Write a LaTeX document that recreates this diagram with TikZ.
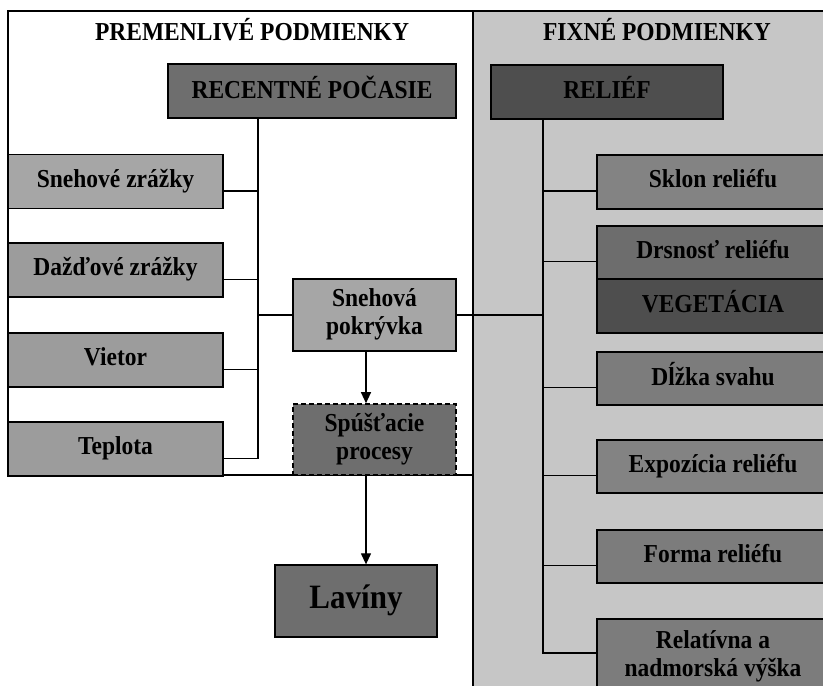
\documentclass[tikz,border=0pt]{standalone}
\usepackage{fontspec}
\setmainfont{Liberation Serif}
\usetikzlibrary{arrows.meta}
\definecolor{panelgray}{HTML}{C6C6C6}
\definecolor{lightbox}{HTML}{A6A6A6}
\definecolor{leftbox}{HTML}{9C9C9C}
\definecolor{midbox}{HTML}{7C7C7C}
\definecolor{darkbox}{HTML}{6E6E6E}
\definecolor{deepbox}{HTML}{4E4E4E}
\newcommand{\stx}[1]{\scalebox{1}[1.1]{\begin{tabular}{@{}c@{}}#1\end{tabular}}}
\begin{document}
\begin{tikzpicture}[x=1pt,y=-1pt,
  box/.style={draw=black, line width=1.3pt, inner sep=0pt, align=center,
    font=\fontsize{23.5}{25.5}\selectfont\bfseries, text=black},
  leftb/.style={box, fill=leftbox, minimum width=215pt, minimum height=54pt},
  rightb/.style={box, fill=midbox, minimum width=232pt, minimum height=53pt},
  conn/.style={draw=black, line width=1.2pt},
  arr/.style={conn, -{Triangle[length=11pt,width=10pt]}},
  ttl/.style={inner sep=0pt, font=\fontsize{23.5}{25.5}\selectfont\bfseries}]
\clip (0,0) rectangle (823,686);
% panels
\fill[panelgray] (473,11) rectangle (830,690);
\draw[line width=1.2pt] (830,11) -- (8,11) -- (8,475) -- (473,475);
\draw[line width=1.2pt] (473,11) -- (473,690);
% titles
\node[ttl] (t1) at (252,33.5) {\stx{PREMENLIVÉ PODMIENKY}};
\node[ttl] (t2) at (657,33.5) {\stx{FIXNÉ PODMIENKY}};
% trunk columns
\coordinate (tl) at (258,0);
\coordinate (tr) at (543,0);
\coordinate (ax) at (366,0);
% left side
\node[box, fill=darkbox, minimum width=288pt, minimum height=54pt] (rp) at (312,91) {\stx{RECENTNÉ POČASIE}};
\node[leftb, fill=lightbox] (sz) at (115.5,181.5) {\stx{Snehové zrážky}};
\node[leftb] (dz) at (115.5,270) {\stx{Dažďové zrážky}};
\node[leftb] (vi) at (115.5,360) {\stx{Vietor}};
\node[leftb] (te) at (115.5,449) {\stx{Teplota}};
\node[box, fill=lightbox, minimum width=163pt, minimum height=72pt] (sp) at (374.5,315) {\stx{Snehová\\pokrývka}};
\node[box, fill=darkbox, dash pattern=on 5pt off 3pt, line width=1.6pt, minimum width=163pt, minimum height=71pt] (spu) at (374.5,439.5) {\stx{Spúšťacie\\procesy}};
\node[box, fill=darkbox, minimum width=162pt, minimum height=72pt, font=\fontsize{31}{34}\selectfont\bfseries] (lav) at (356,601) {\stx{Lavíny}};
% right side
\node[box, fill=deepbox, minimum width=232pt, minimum height=54pt] (re) at (607,92) {\stx{RELIÉF}};
\node[rightb, fill=midbox!95!white, minimum height=54pt] (sk) at (713,182) {\stx{Sklon reliéfu}};
\node[rightb, fill=midbox!88!black] (dr) at (713,252.5) {\stx{Drsnosť reliéfu}};
\node[box, fill=deepbox, minimum width=232pt, minimum height=54pt] (ve) at (713,306) {\stx{VEGETÁCIA}};
\node[rightb] (dl) at (713,378.5) {\stx{Dĺžka svahu}};
\node[rightb, fill=midbox!95!white] (ex) at (713,466.5) {\stx{Expozícia reliéfu}};
\node[rightb] (fo) at (713,556.5) {\stx{Forma reliéfu}};
\node[rightb, minimum height=76pt] (rv) at (713,657) {\stx{Relatívna a\\nadmorská výška}};
% left connectors
\draw[conn] (rp.south -| tl) -- ([yshift=-9.5pt]te.east -| tl) -- ([yshift=-9.5pt]te.east);
\draw[conn] ([yshift=-9.5pt]sz.east) -- ([yshift=-9.5pt]sz.east -| tl);
\draw[conn] ([yshift=-9.5pt]dz.east) -- ([yshift=-9.5pt]dz.east -| tl);
\draw[conn] ([yshift=-9.5pt]vi.east) -- ([yshift=-9.5pt]vi.east -| tl);
\draw[conn] (sp.west -| tl) -- (sp.west);
\draw[conn] (sp.east) -- (sp.east -| tr);
\draw[arr] (sp.south -| ax) -- (spu.north -| ax);
\draw[arr] (spu.south -| ax) -- (lav.north -| ax);
% right connectors
\draw[conn] (re.south -| tr) -- ([yshift=4pt]rv.west -| tr) -- ([yshift=4pt]rv.west);
\draw[conn] ([yshift=-9pt]sk.west -| tr) -- ([yshift=-9pt]sk.west);
\draw[conn] ([yshift=-9pt]dr.west -| tr) -- ([yshift=-9pt]dr.west);
\draw[conn] ([yshift=-9pt]dl.west -| tr) -- ([yshift=-9pt]dl.west);
\draw[conn] ([yshift=-9pt]ex.west -| tr) -- ([yshift=-9pt]ex.west);
\draw[conn] ([yshift=-9pt]fo.west -| tr) -- ([yshift=-9pt]fo.west);
\end{tikzpicture}
\end{document}
